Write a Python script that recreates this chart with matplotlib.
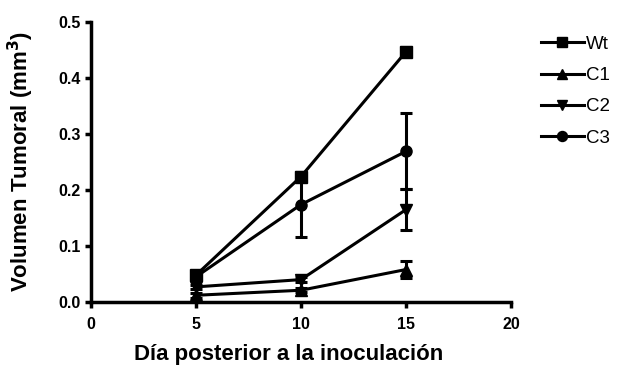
import numpy as np
import matplotlib.pyplot as plt

plt.rcParams['font.family'] = ['Liberation Sans', 'DejaVu Sans']

days = [5, 10, 15]
labels = ['Wt', 'C1', 'C2', 'C3']
markers = ['s', '^', 'v', 'o']
means = [
    [0.048, 0.224, 0.447],
    [0.012, 0.021, 0.058],
    [0.027, 0.040, 0.165],
    [0.045, 0.174, 0.269],
]
errs = [
    [0.005, 0.008, 0.008],
    [0.004, 0.004, 0.015],
    [0.004, 0.005, 0.036],
    [0.004, 0.058, 0.068],
]

fig = plt.figure(figsize=(6.17, 3.69), dpi=100)
ax = fig.add_axes([91/617, 67/369, 420/617, 280/369])

for lab, mk, m, e in zip(labels, markers, means, errs):
    ax.errorbar(days, m, yerr=e, color='black', marker=mk, markersize=8,
                linewidth=2.2, elinewidth=2.2, capsize=4, capthick=2.2, label=lab,
                clip_on=False)

ax.set_xlim(0, 20)
ax.set_ylim(0, 0.5)
ax.set_xticks([0, 5, 10, 15, 20])
ax.set_yticks([0.0, 0.1, 0.2, 0.3, 0.4, 0.5])
ax.set_yticklabels(['0.0', '0.1', '0.2', '0.3', '0.4', '0.5'])
for s in ['top', 'right']:
    ax.spines[s].set_visible(False)
for s in ['left', 'bottom']:
    ax.spines[s].set_linewidth(2.5)
ax.tick_params(width=2.5, length=4, labelsize=11.5)
ax.tick_params(axis='x', pad=7)
for t in ax.get_xticklabels() + ax.get_yticklabels():
    t.set_fontweight('bold')

ax.set_xlabel('Día posterior a la inoculación', fontsize=16, fontweight='bold')
ax.xaxis.set_label_coords(0.47, -0.15)
ax.set_ylabel('Volumen Tumoral (mm$^\\mathbf{3}$)', fontsize=16, fontweight='bold', labelpad=16)

handles, labs = ax.get_legend_handles_labels()
handles = [h[0] for h in handles]
fig.legend(handles, labs, loc='upper left', bbox_to_anchor=(524/617, 1 - 19/369),
           frameon=False, fontsize=13.5, handlelength=2.3, handletextpad=0.1,
           labelspacing=0.75, markerscale=0.9)

fig.savefig('out.png', dpi=100)
